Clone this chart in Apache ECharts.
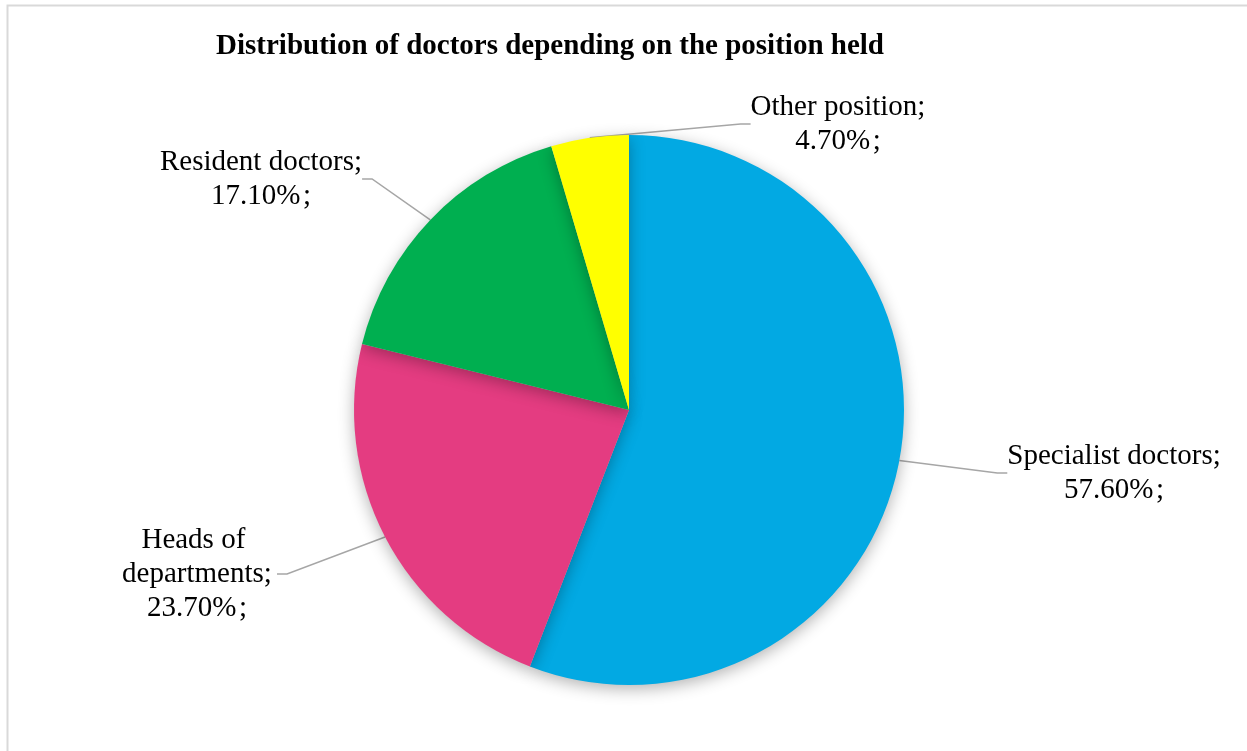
<!DOCTYPE html>
<html>
<head>
<meta charset="utf-8">
<script src="https://cdn.jsdelivr.net/npm/echarts@6/dist/echarts.min.js"></script>
<style>
html,body{margin:0;padding:0;background:#fff;}
#chart{width:1247px;height:751px;}
</style>
</head>
<body>
<div id="chart"></div>
<script>
var titleText = 'Distribution of doctors depending on the position held';
var categories = ['Specialist doctors', 'Heads of departments', 'Resident doctors', 'Other position'];
var values = [57.6, 23.7, 17.1, 4.7];
var colors = ['#02A9E3', '#E43C81', '#00AF50', '#FFFF00'];

var labelSpots = [
  {x: 1114, y: 473},
  {x: 197, y: 574},
  {x: 261, y: 179},
  {x: 838, y: 124}
];

var chart = echarts.init(document.getElementById('chart'), null, {renderer: 'canvas'});
var data = categories.map(function (c, i) {
  var item = {name: c, value: values[i], itemStyle: {color: colors[i]}};
  if (i === 1) {
    item.label = {width: 160, overflow: 'break'};
  }
  return item;
});

chart.setOption({
  backgroundColor: '#ffffff',
  animation: false,
  title: {
    text: titleText,
    left: 545,
    top: 27,
    textAlign: 'center',
    textStyle: {
      fontFamily: 'Liberation Serif',
      fontWeight: 'bold',
      fontSize: 29,
      color: '#000'
    }
  },
  graphic: [{
    type: 'polyline',
    silent: true,
    shape: {points: [[7.5, 751], [7.5, 5.5], [1247, 5.5]]},
    style: {stroke: '#d9d9d9', lineWidth: 2, fill: null}
  }],
  series: [{
    type: 'pie',
    center: [629, 410],
    radius: [0, 275],
    startAngle: 90,
    clockwise: true,
    data: data,
    itemStyle: {
      borderWidth: 0,
      shadowBlur: 16,
      shadowOffsetY: 4,
      shadowColor: 'rgba(0,0,0,0.3)'
    },
    emphasis: {disabled: true},
    label: {
      show: true,
      position: 'outside',
      fontFamily: 'Liberation Serif',
      fontSize: 29,
      lineHeight: 34,
      color: '#000',
      align: 'center',
      formatter: function (p) {
        return p.name + ';\n' + p.value.toFixed(2) + '%\u200A;';
      }
    },
    labelLine: {
      show: true,
      length: 20,
      length2: 10,
      lineStyle: {color: '#a6a6a6', width: 1.5}
    },
    labelLayout: function (params) {
      var s = labelSpots[params.dataIndex];
      return {x: s.x, y: s.y, align: 'center', verticalAlign: 'middle'};
    }
  }]
});
</script>
</body>
</html>
